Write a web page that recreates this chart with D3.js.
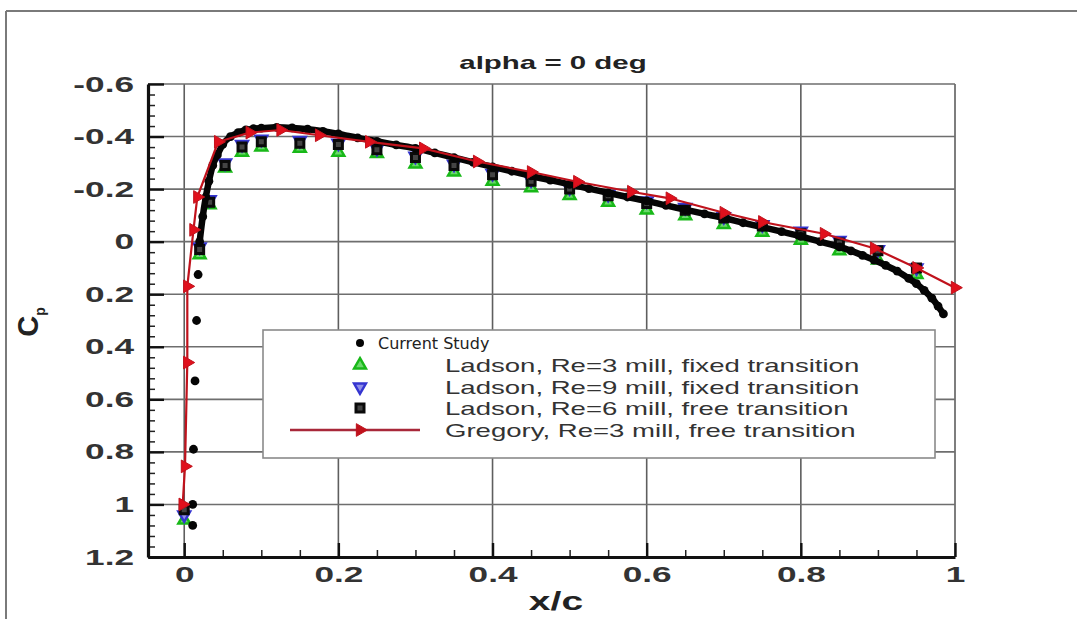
<!DOCTYPE html>
<html><head><meta charset="utf-8">
<script src="https://cdn.jsdelivr.net/npm/d3@7"></script>
<style>body{margin:0;background:#fff}svg{display:block}</style>
</head><body>
<svg id="chart" width="1077" height="619"></svg>
<script>
// ---------- data ----------
const chartTitle = "alpha = 0 deg";
const xTitle = "x/c";
const xTickValues = [0, 0.2, 0.4, 0.6, 0.8, 1];
const xTickLabels = ["0", "0.2", "0.4", "0.6", "0.8", "1"];
const yTickValues = [-0.6, -0.4, -0.2, 0, 0.2, 0.4, 0.6, 0.8, 1, 1.2];
const yTickLabels = ["-0.6", "-0.4", "-0.2", "0", "0.2", "0.4", "0.6", "0.8", "1", "1.2"];
const seriesNames = [
  "Current Study",
  "Ladson, Re=3 mill, fixed transition",
  "Ladson, Re=9 mill, fixed transition",
  "Ladson, Re=6 mill, free transition",
  "Gregory, Re=3 mill, free transition"
];
const currentX = [0.011,0.011,0.012,0.014,0.016,0.018,0.020,0.024,0.028,0.032,0.037,0.043,0.050,0.060,0.070,0.080,0.090,0.100,0.120,0.140,0.160,0.180,0.200,0.225,0.250,0.275,0.300,0.325,0.350,0.375,0.400,0.425,0.450,0.475,0.500,0.525,0.550,0.575,0.600,0.625,0.650,0.675,0.700,0.725,0.750,0.775,0.800,0.825,0.850,0.865,0.880,0.895,0.910,0.925,0.940,0.950,0.960,0.970,0.978,0.985];
const currentCp = [1.08,1.0,0.79,0.53,0.30,0.125,0.0,-0.095,-0.17,-0.23,-0.29,-0.33,-0.37,-0.40,-0.415,-0.425,-0.43,-0.432,-0.435,-0.433,-0.428,-0.42,-0.41,-0.395,-0.382,-0.368,-0.355,-0.338,-0.32,-0.302,-0.285,-0.268,-0.25,-0.234,-0.218,-0.202,-0.186,-0.17,-0.155,-0.138,-0.122,-0.106,-0.09,-0.072,-0.055,-0.038,-0.02,0.0,0.02,0.035,0.052,0.07,0.09,0.112,0.14,0.16,0.185,0.215,0.245,0.275];
const ladsonX = [0, 0.02, 0.033, 0.053, 0.075, 0.10, 0.15, 0.20, 0.25, 0.30, 0.35, 0.40, 0.45, 0.50, 0.55, 0.60, 0.65, 0.70, 0.75, 0.80, 0.85, 0.90, 0.95];
const ladson3Cp = [1.06, 0.05, -0.14, -0.28, -0.34, -0.36, -0.355, -0.34, -0.335, -0.295, -0.265, -0.23, -0.205, -0.175, -0.15, -0.12, -0.098, -0.065, -0.035, -0.005, 0.035, 0.07, 0.125];
const ladson9Cp = [1.04, 0.02, -0.16, -0.30, -0.37, -0.39, -0.385, -0.375, -0.355, -0.325, -0.295, -0.26, -0.235, -0.205, -0.18, -0.155, -0.13, -0.095, -0.065, -0.04, -0.005, 0.03, 0.10];
const ladson6Cp = [1.02, 0.03, -0.15, -0.29, -0.36, -0.38, -0.375, -0.37, -0.35, -0.32, -0.29, -0.255, -0.23, -0.20, -0.175, -0.145, -0.12, -0.09, -0.06, -0.03, 0.005, 0.035, 0.10];
const gregoryX = [-0.002, 0.001, 0.004, 0.004, 0.012, 0.017, 0.044, 0.085, 0.125, 0.175, 0.24, 0.31, 0.38, 0.45, 0.51, 0.58, 0.63, 0.70, 0.75, 0.83, 0.895, 0.95, 1.0];
const gregoryCp = [1.0, 0.855, 0.46, 0.17, -0.045, -0.17, -0.38, -0.415, -0.425, -0.405, -0.38, -0.355, -0.305, -0.265, -0.228, -0.19, -0.165, -0.11, -0.075, -0.03, 0.025, 0.10, 0.175];

// ---------- layout ----------
const svg = d3.select("#chart");
const L = 148, R = 955, T = 84, B = 557;
const x = d3.scaleLinear().domain([-0.047, 1]).range([L, R]);
const y = d3.scaleLinear().domain([-0.6, 1.2]).range([T, B]);
const FONT = "'Liberation Sans', Arial, sans-serif";
function stretch(sel, f) {
  sel.each(function () {
    const w = this.getComputedTextLength();
    d3.select(this).attr("textLength", w * f).attr("lengthAdjust", "spacingAndGlyphs");
  });
}

// outer frame
svg.append("line").attr("x1", 6).attr("y1", 11).attr("x2", 1077).attr("y2", 11).attr("stroke", "#7a7a7a").attr("stroke-width", 2);
svg.append("line").attr("x1", 6).attr("y1", 11).attr("x2", 6).attr("y2", 619).attr("stroke", "#7a7a7a").attr("stroke-width", 2);

// grid
const grid = svg.append("g");
grid.selectAll("line.v").data(xTickValues).join("line")
  .attr("x1", d => x(d)).attr("x2", d => x(d)).attr("y1", T).attr("y2", B)
  .attr("stroke", "#5e5e5e").attr("stroke-width", 1.6);
grid.selectAll("line.h").data(yTickValues).join("line")
  .attr("x1", L).attr("x2", R).attr("y1", d => y(d)).attr("y2", d => y(d))
  .attr("stroke", "#6e6e6e").attr("stroke-width", 1.6);

// minor ticks
const yMinor = d3.range(0, 46).map(i => -0.6 + i * 0.04).filter(v => Math.abs(Math.round(v * 5) - v * 5) > 1e-6);
const xMinor = d3.range(0, 21).map(i => i * 0.05).filter(v => Math.abs(Math.round(v * 5) - v * 5) > 1e-6);
svg.append("g").attr("transform", `translate(${L},0)`)
  .call(d3.axisLeft(y).tickValues(yMinor).tickSizeInner(-7).tickSizeOuter(0).tickFormat(""))
  .call(g => g.select(".domain").remove())
  .selectAll("line").attr("stroke", "#222").attr("stroke-width", 1.5);
svg.append("g").attr("transform", `translate(0,${B})`)
  .call(d3.axisBottom(x).tickValues(xMinor).tickSizeInner(-7).tickSizeOuter(0).tickFormat(""))
  .call(g => g.select(".domain").remove())
  .selectAll("line").attr("stroke", "#222").attr("stroke-width", 1.5);

// major axes
const yAxis = svg.append("g").attr("transform", `translate(${L},0)`)
  .call(d3.axisLeft(y).tickValues(yTickValues).tickFormat((d, i) => yTickLabels[i]).tickSizeInner(-16).tickSizeOuter(0).tickPadding(14));
const xAxis = svg.append("g").attr("transform", `translate(0,${B})`)
  .call(d3.axisBottom(x).tickValues(xTickValues).tickFormat((d, i) => xTickLabels[i]).tickSizeInner(-14).tickSizeOuter(0).tickPadding(9));
[yAxis, xAxis].forEach(a => {
  a.select(".domain").attr("stroke", "#111").attr("stroke-width", 3.2);
  a.selectAll(".tick line").attr("stroke", "#111").attr("stroke-width", 2.4);
  a.selectAll("text").attr("font-family", FONT).attr("font-weight", "bold").attr("font-size", 22).attr("fill", "#333");
});
stretch(yAxis.selectAll("text"), 1.6);
stretch(xAxis.selectAll("text"), 1.6);

// ---------- series ----------
const cur = currentX.map((v, i) => ({ x: v, y: currentCp[i] }));
const l3 = ladsonX.map((v, i) => ({ x: v, y: ladson3Cp[i] }));
const l9 = ladsonX.map((v, i) => ({ x: v, y: ladson9Cp[i] }));
const l6 = ladsonX.map((v, i) => ({ x: v, y: ladson6Cp[i] }));
const gr = gregoryX.map((v, i) => ({ x: v, y: gregoryCp[i] }));

const plot = svg.append("g");
const tri = d3.symbol(d3.symbolTriangle, 60);
const sq = d3.symbol(d3.symbolSquare, 64);
const green = { stroke: "#18b818", fill: "#6cd86c" };
const blue = { stroke: "#3535d0", fill: "#8f8fe8" };

plot.selectAll("path.l3").data(l3).join("path").attr("d", tri)
  .attr("transform", d => `translate(${x(d.x)},${y(d.y)})`)
  .attr("fill", green.fill).attr("stroke", green.stroke).attr("stroke-width", 2.5);
plot.selectAll("path.l9").data(l9).join("path").attr("d", tri)
  .attr("transform", d => `translate(${x(d.x)},${y(d.y)}) rotate(180)`)
  .attr("fill", blue.fill).attr("stroke", blue.stroke).attr("stroke-width", 2.5);
plot.selectAll("path.l6").data(l6).join("path").attr("d", sq)
  .attr("transform", d => `translate(${x(d.x)},${y(d.y)})`)
  .attr("fill", "#444").attr("stroke", "#0a0a0a").attr("stroke-width", 3);

// current study
const curveStart = 6; // leading-edge points are isolated dots
plot.append("path").datum(cur.slice(curveStart))
  .attr("d", d3.line().x(d => x(d.x)).y(d => y(d.y)).curve(d3.curveMonotoneX))
  .attr("fill", "none").attr("stroke", "#050505").attr("stroke-width", 6.5).attr("stroke-linecap", "round");
plot.selectAll("circle.cur").data(cur).join("circle")
  .attr("cx", d => x(d.x)).attr("cy", d => y(d.y)).attr("r", 4.4).attr("fill", "#050505");

// Gregory
plot.append("path").datum(gr)
  .attr("d", d3.line().x(d => x(d.x)).y(d => y(d.y)))
  .attr("fill", "none").attr("stroke", "#c0121c").attr("stroke-width", 2.2);
const triR = d3.symbol(d3.symbolTriangle, 70);
plot.selectAll("path.gr").data(gr).join("path").attr("d", triR)
  .attr("transform", d => `translate(${x(d.x)},${y(d.y)}) rotate(90)`)
  .attr("fill", "#e0101c").attr("stroke", "#c0121c").attr("stroke-width", 1);

// ---------- legend ----------
const lg = svg.append("g");
lg.append("rect").attr("x", 263).attr("y", 330).attr("width", 672).attr("height", 128)
  .attr("fill", "#fff").attr("stroke", "#8a8a8a").attr("stroke-width", 1.6);
const rowY = [343, 365, 387, 408, 430];
const symX = 360;
lg.append("circle").attr("cx", symX).attr("cy", rowY[0]).attr("r", 4).attr("fill", "#050505");
lg.append("path").attr("d", tri).attr("transform", `translate(${symX},${rowY[1]})`)
  .attr("fill", green.fill).attr("stroke", green.stroke).attr("stroke-width", 2.5);
lg.append("path").attr("d", tri).attr("transform", `translate(${symX},${rowY[2]}) rotate(180)`)
  .attr("fill", blue.fill).attr("stroke", blue.stroke).attr("stroke-width", 2.5);
lg.append("path").attr("d", sq).attr("transform", `translate(${symX},${rowY[3]})`)
  .attr("fill", "#444").attr("stroke", "#0a0a0a").attr("stroke-width", 3);
lg.append("line").attr("x1", 290).attr("x2", 420).attr("y1", rowY[4]).attr("y2", rowY[4])
  .attr("stroke", "#a8283a").attr("stroke-width", 2.4);
lg.append("path").attr("d", triR).attr("transform", `translate(${symX},${rowY[4]}) rotate(90)`)
  .attr("fill", "#c0121c").attr("stroke", "#c0121c");

lg.append("text").attr("x", 378).attr("y", rowY[0]).attr("dy", "0.35em")
  .attr("font-family", "'DejaVu Sans', sans-serif").attr("font-size", 16).attr("fill", "#222")
  .text(seriesNames[0]);
const lt = lg.selectAll("text.s").data(seriesNames.slice(1)).join("text")
  .attr("x", 445).attr("y", (d, i) => rowY[i + 1]).attr("dy", "0.36em")
  .attr("font-family", FONT).attr("font-size", 19).attr("fill", "#333")
  .text(d => d);
stretch(lt, 1.45);

// ---------- titles ----------
const t = svg.append("text").attr("x", 553).attr("y", 69).attr("text-anchor", "middle")
  .attr("font-family", FONT).attr("font-weight", "bold").attr("font-size", 19).attr("fill", "#222")
  .text(chartTitle);
stretch(t, 1.55);
const xt = svg.append("text").attr("x", 556).attr("y", 610).attr("text-anchor", "middle")
  .attr("font-family", FONT).attr("font-weight", "bold").attr("font-size", 26).attr("fill", "#222")
  .text(xTitle);
stretch(xt, 1.5);
const yt = svg.append("text").attr("transform", "translate(38,322) rotate(-90)").attr("text-anchor", "middle")
  .attr("font-family", FONT).attr("font-weight", "bold").attr("fill", "#222");
yt.append("tspan").attr("font-size", 29).text("C");
yt.append("tspan").attr("font-size", 14).attr("dy", 7).text("p");
</script>
</body></html>
